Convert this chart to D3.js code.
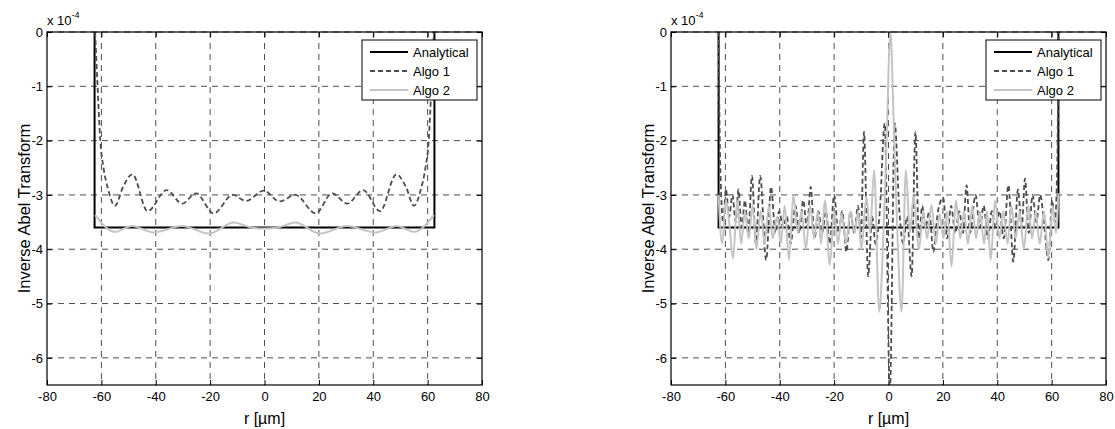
<!DOCTYPE html>
<html>
<head>
<meta charset="utf-8">
<script src="https://cdn.jsdelivr.net/npm/d3@7"></script>
<style>
  body { margin: 0; background: #fff; }
  svg { font-family: "Liberation Sans", Arial, sans-serif; }
</style>
</head>
<body>
<div id="chart"></div>
<script>
// ---- data (r in µm, values in units of 1e-4) ----
const xTicks = [-80, -60, -40, -20, 0, 20, 40, 60, 80];
const yTicks = [0, -1, -2, -3, -4, -5, -6];
const legendLabels = ["Analytical", "Algo 1", "Algo 2"];

const analyticR = [-62.5, -62.5, 62.5, 62.5];
const analyticV = [0, -3.6, -3.6, 0];

// left panel
const leftAlgo1R = [-62.3, -61.4, -60.4, -59.2, -57.5, -55.0, -52.0, -48.6, -43.0, -36.0, -30.3, -25.2, -18.7, -11.7, -6.8, -0.2,
  5.5, 11.4, 18.8, 24.9, 30.4, 36.3, 42.5, 48.5, 52.0, 55.0, 57.5, 59.2, 60.4, 61.4, 62.3];
const leftAlgo1V = [0, -1.0, -2.0, -2.5, -2.9, -3.2, -2.85, -2.62, -3.3, -2.91, -3.16, -2.97, -3.34, -3.0, -3.11, -2.92,
  -3.12, -3.0, -3.34, -2.97, -3.16, -2.91, -3.3, -2.62, -2.85, -3.2, -2.9, -2.5, -2.0, -1.0, 0];

const leftAlgo2R = [-62.3, -55.0, -48.7, -40.8, -30.3, -20.5, -11.3, -5.0, 0, 5.0, 11.3, 20.5, 30.3, 40.8, 48.7, 55.0, 62.3];
const leftAlgo2V = [-3.37, -3.68, -3.57, -3.69, -3.57, -3.71, -3.51, -3.6, -3.62, -3.6, -3.51, -3.71, -3.57, -3.69, -3.57, -3.68, -3.37];

// right panel
const rightAlgo1R = [-62.5, -62.2, -61.8, -60.8, -59.8, -58.6, -57.4, -56.2, -55.2, -54.0, -52.8, -51.6, -50.2, -48.8, -47.2, -45.0,
  -43.2, -41.6, -40.2, -38.8, -37.4, -36.0, -34.2, -32.8, -31.4, -30.0, -28.6, -27.2, -25.8, -24.4, -23.0, -21.6,
  -20.0, -18.4, -17.0, -15.5, -14.0, -12.6, -11.2, -10.2, -9.0, -7.5, -6.0, -4.8, -3.2, -1.4, 0.5,
  2.3, 4.0, 5.4, 6.8, 8.5, 9.9, 11.2, 12.4, 13.6, 15.0, 16.5, 18.2, 20.1, 21.6, 23.0, 24.6, 26.0, 27.4, 28.7,
  30.0, 32.0, 33.6, 35.0, 36.6, 38.0, 39.4, 40.8, 42.4, 44.1, 45.9, 47.6, 49.0, 50.2, 51.6, 53.0, 54.4, 55.8,
  57.2, 58.8, 60.2, 61.2, 61.9, 62.3, 62.5];
const rightAlgo1V = [0, -1.5, -2.6, -3.5, -2.9, -3.4, -3.0, -3.5, -2.9, -3.6, -3.1, -3.7, -2.65, -3.9, -2.65, -4.2,
  -2.85, -3.7, -3.3, -3.6, -3.4, -3.9, -3.2, -3.7, -3.1, -3.6, -2.85, -3.8, -3.3, -3.7, -3.3, -3.9,
  -3.0, -3.7, -3.3, -4.05, -3.3, -3.7, -3.2, -3.8, -1.84, -4.5, -3.4, -3.9, -3.3, -1.68, -6.6,
  -1.68, -3.3, -3.9, -3.4, -4.5, -1.84, -3.8, -3.2, -3.6, -3.3, -4.05, -3.3, -3.05, -3.8, -3.2, -3.7, -3.3, -3.7, -2.82,
  -3.7, -3.0, -3.6, -3.2, -3.8, -3.3, -3.6, -3.3, -3.8, -2.82, -4.23, -2.9, -3.6, -2.7, -3.7, -3.0, -3.5, -3.0,
  -3.5, -4.2, -3.1, -3.5, -2.8, -1.5, 0];

const rightAlgo2R = [-62.5, -61.2, -59.8, -58.6, -57.2, -55.6, -54.2, -52.8, -51.4, -50.0, -48.6, -47.0, -45.6, -44.0, -42.6, -41.0,
  -39.6, -38.2, -36.6, -35.0, -33.4, -32.0, -30.4, -28.8, -27.4, -26.0, -24.8, -23.4, -21.6, -20.0, -18.6, -17.2,
  -15.6, -14.0, -12.4, -11.2, -10.0, -8.1, -6.8, -5.3, -3.4, -2.0, -0.7, 0.7, 2.1, 3.4, 4.8,
  6.4, 7.9, 9.2, 11.2, 12.8, 14.2, 15.8, 17.4, 18.8, 20.2, 21.6, 23.2, 24.8, 26.4, 27.8, 29.2, 30.8, 32.2, 33.6,
  35.2, 36.2, 37.6, 39.2, 40.8, 42.2, 43.8, 45.2, 46.8, 48.2, 49.8, 51.4, 52.8, 54.2, 55.6, 57.2, 58.8, 60.4, 61.6, 62.5];
const rightAlgo2V = [-3.0, -3.9, -3.1, -3.5, -4.17, -3.1, -3.9, -3.3, -3.8, -3.2, -4.0, -3.3, -3.9, -3.2, -3.8, -3.4,
  -3.9, -3.2, -4.2, -3.0, -3.7, -3.3, -4.0, -3.2, -3.8, -3.3, -3.9, -3.1, -4.29, -3.3, -3.9, -3.35,
  -3.9, -3.3, -3.7, -3.3, -4.0, -3.03, -3.7, -2.54, -5.15, -3.9, -2.0, 0, -2.0, -3.9, -5.15,
  -2.54, -3.7, -3.03, -4.0, -3.3, -3.8, -3.19, -3.9, -3.35, -3.8, -3.3, -4.32, -3.1, -3.8, -3.3, -3.9, -3.2, -3.8, -3.3,
  -3.9, -3.3, -4.2, -3.1, -3.8, -3.3, -3.9, -3.2, -3.8, -3.3, -4.0, -3.2, -3.8, -3.3, -3.9, -3.3, -4.16, -3.2, -3.7, -2.97];

const zip = (r, v) => r.map((d, i) => ({r: d, v: v[i]}));

const width = 1115, height = 429;
const plotTop = 32, plotBottom = 385, panelW = 435;

const svg = d3.select("#chart").append("svg")
  .attr("width", width)
  .attr("height", height);

function drawPanel(id, left, algo1, algo2) {
  const xScale = d3.scaleLinear().domain([-80, 80]).range([left, left + panelW]);
  const yScale = d3.scaleLinear().domain([-6.5, 0]).range([plotBottom, plotTop]);

  const g = svg.append("g").attr("class", "panel-" + id);

  g.append("clipPath").attr("id", "clip-" + id)
    .append("rect")
    .attr("x", left).attr("y", plotTop)
    .attr("width", panelW).attr("height", plotBottom - plotTop);

  // grid
  g.append("g").selectAll("line").data(xTicks.slice(1, -1)).join("line")
    .attr("x1", d => xScale(d)).attr("x2", d => xScale(d))
    .attr("y1", plotTop).attr("y2", plotBottom)
    .style("stroke", "#000").style("stroke-width", 0.7).style("stroke-dasharray", "6,5");
  g.append("g").selectAll("line").data(yTicks).join("line")
    .attr("x1", left).attr("x2", left + panelW)
    .attr("y1", d => yScale(d)).attr("y2", d => yScale(d))
    .style("stroke", "#000").style("stroke-width", 0.7).style("stroke-dasharray", "6,5");

  // axes, ticks inside
  const xaxis = d3.axisBottom(xScale).tickValues(xTicks).tickSize(-5).tickSizeOuter(0).tickPadding(7)
    .tickFormat(d => String(d));
  const yaxis = d3.axisLeft(yScale).tickValues(yTicks).tickSize(-5).tickSizeOuter(0).tickPadding(4)
    .tickFormat(d => String(d));

  g.append("g").attr("transform", `translate(0,${plotBottom})`).call(xaxis)
    .call(a => a.selectAll("text").style("font-size", "13px").style("fill", "#000"));
  g.append("g").attr("transform", `translate(${left},0)`).call(yaxis)
    .call(a => a.selectAll("text").style("font-size", "13px").style("fill", "#000"));
  g.append("g").attr("transform", `translate(0,${plotTop})`)
    .call(d3.axisTop(xScale).tickValues(xTicks).tickSize(-5).tickSizeOuter(0).tickFormat(""));
  g.append("g").attr("transform", `translate(${left + panelW},0)`)
    .call(d3.axisRight(yScale).tickValues(yTicks).tickSize(-5).tickSizeOuter(0).tickFormat(""));
  g.selectAll(".domain").style("stroke", "none");
  g.selectAll(".tick line").style("stroke", "#000");

  // series
  const line = d3.line().x(d => xScale(d.r)).y(d => yScale(d.v)).curve(d3.curveMonotoneX);
  const lineStraight = d3.line().x(d => xScale(d.r)).y(d => yScale(d.v));
  const plot = g.append("g").attr("clip-path", `url(#clip-${id})`);

  plot.append("path").datum(zip(analyticR, analyticV))
    .attr("d", lineStraight)
    .style("fill", "none").style("stroke", "#000").style("stroke-width", 2);
  plot.append("path").datum(algo1)
    .attr("d", line)
    .style("fill", "none").style("stroke", "#4d4d4d").style("stroke-width", 1.8)
    .style("stroke-dasharray", "5,3");
  plot.append("path").datum(algo2)
    .attr("d", line)
    .style("fill", "none").style("stroke", "#c4c4c4").style("stroke-width", 2);

  // box
  g.append("rect")
    .attr("x", left).attr("y", plotTop)
    .attr("width", panelW).attr("height", plotBottom - plotTop)
    .style("fill", "none").style("stroke", "#000").style("stroke-width", 1.2);

  // exponent
  const ex = g.append("text").attr("x", left).attr("y", 25).style("font-size", "13px");
  ex.append("tspan").text("x 10");
  ex.append("tspan").attr("dy", -7).style("font-size", "9px").text("-4");

  // labels
  g.append("text")
    .attr("x", xScale(0)).attr("y", 424)
    .attr("text-anchor", "middle").style("font-size", "16px")
    .text("r [µm]");
  g.append("text")
    .attr("transform", `translate(${left - 17},${(plotTop + plotBottom) / 2}) rotate(-90)`)
    .attr("text-anchor", "middle").style("font-size", "16.5px")
    .text("Inverse Abel Transform");

  // legend
  const lx = left + panelW - 120, ly = 40;
  const leg = g.append("g");
  leg.append("rect").attr("x", lx).attr("y", ly).attr("width", 115).attr("height", 60)
    .style("fill", "#fff").style("stroke", "#000").style("stroke-width", 1);
  const styles = [
    {stroke: "#000", width: 2, dash: null},
    {stroke: "#4d4d4d", width: 1.8, dash: "5,3"},
    {stroke: "#c4c4c4", width: 2, dash: null}
  ];
  legendLabels.forEach((name, i) => {
    const yy = ly + 12 + i * 19;
    leg.append("line").attr("x1", lx + 8).attr("x2", lx + 46).attr("y1", yy).attr("y2", yy)
      .style("stroke", styles[i].stroke).style("stroke-width", styles[i].width)
      .style("stroke-dasharray", styles[i].dash);
    leg.append("text").attr("x", lx + 51).attr("y", yy).attr("dy", "0.35em")
      .style("font-size", "13px").text(name);
  });
}

drawPanel("left", 47, zip(leftAlgo1R, leftAlgo1V), zip(leftAlgo2R, leftAlgo2V));
drawPanel("right", 671, zip(rightAlgo1R, rightAlgo1V), zip(rightAlgo2R, rightAlgo2V));
</script>
</body>
</html>
